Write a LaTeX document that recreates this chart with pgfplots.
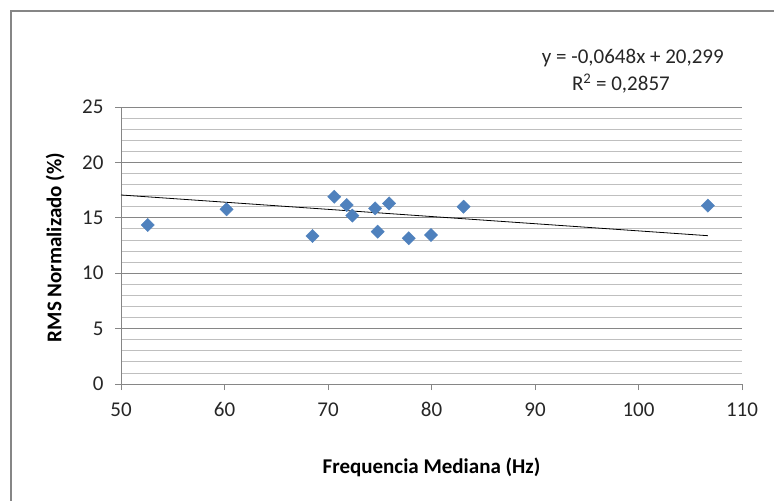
\documentclass[border=0pt]{standalone}
\usepackage{pgfplots}
\pgfplotsset{compat=1.18}
\usepackage{fontspec}
\setmainfont{Carlito}
\definecolor{exblue}{HTML}{4F81BD}
\definecolor{axgray}{HTML}{868686}
\definecolor{mingray}{HTML}{BFBFBF}
\begin{document}
\begin{tikzpicture}
\useasboundingbox (0,0) rectangle (774bp,501bp);
\draw[axgray, line width=1.3bp] (11bp,-2bp) -- (11bp,490bp) -- (776bp,490bp);
\begin{axis}[
  at={(121bp,117bp)}, anchor=south west,
  scale only axis, width=621bp, height=277bp,
  xmin=50, xmax=110, ymin=0, ymax=25,
  xtick={50,60,...,110}, ytick={0,5,...,25},
  minor ytick={1,2,3,4,6,7,8,9,11,12,13,14,16,17,18,19,21,22,23,24},
  axis x line*=bottom, axis y line*=left,
  axis line style={axgray, line width=0.9bp, -},
  ymajorgrids, yminorgrids,
  major grid style={axgray, line width=0.8bp},
  minor grid style={mingray, line width=0.8bp},
  tick align=outside,
  major tick length=6bp, minor tick length=0bp,
  tick style={axgray, line width=0.8bp},
  ticklabel style={font=\fontsize{21bp}{24bp}\selectfont, text=black!85},
  /pgf/number format/assume math mode=true,
  xticklabel style={yshift=-9bp},
  yticklabel style={xshift=-8bp},
  xlabel={\textbf{Frequencia Mediana (Hz)}},
  ylabel={\textbf{RMS Normalizado (\%)}},
  label style={font=\fontsize{21bp}{24bp}\selectfont, text=black},
  xlabel style={at={(axis description cs:0.5,0)}, anchor=north, yshift=-70bp},
  ylabel style={at={(axis description cs:0,0.5)}, anchor=south, xshift=-2bp, yshift=53bp},
  clip=false,
]
\addplot[only marks, mark=square*, mark size=4.7bp,
  mark options={rotate=45, fill=exblue, draw=exblue}] coordinates {
  (52.58,14.35) (60.2,15.77) (68.5,13.36) (70.6,16.9) (71.8,16.15)
  (72.35,15.2) (74.55,15.85) (74.8,13.75) (75.9,16.3) (77.8,13.15)
  (79.95,13.45) (83.1,16.0) (106.7,16.1)
};
\addplot[black, line width=0.8bp] coordinates {(50,17.059) (106.7,13.385)};
\node[font=\fontsize{21bp}{24bp}\selectfont, text=black!85] at (axis cs:99.45,29.4)
  {y = -0,0648x + 20,299};
\node[font=\fontsize{21bp}{24bp}\selectfont, text=black!85] at (axis cs:98.3,27.1)
  {R\textsuperscript{2} = 0,2857};
\end{axis}
\end{tikzpicture}
\end{document}
